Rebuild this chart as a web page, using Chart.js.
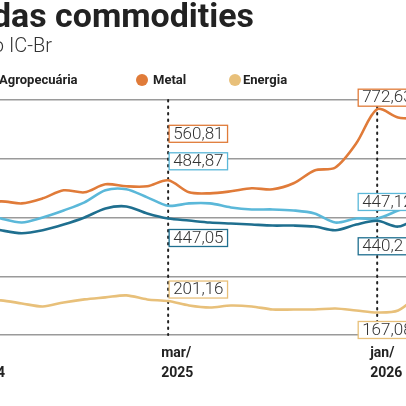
<!DOCTYPE html>
<html><head><meta charset="utf-8">
<script src="https://cdn.jsdelivr.net/npm/chart.js@4"></script>
<style>html,body{margin:0;padding:0;background:#fff;overflow:hidden}#w{position:absolute;left:-40px;top:0;width:486px;height:406px}</style>
</head><body><div id="w"><canvas id="c"></canvas></div>
<script>
const months = ["jun/2024","jul/2024","ago/2024","set/2024","out/2024","nov/2024","dez/2024","jan/2025","fev/2025","mar/2025","abr/2025","mai/2025","jun/2025","jul/2025","ago/2025","set/2025","out/2025","nov/2025","dez/2025","jan/2026","fev/2026","mar/2026"];
const tickLabels = {"jun/2024":["jun/","2024"],"mar/2025":["mar/","2025"],"jan/2026":["jan/","2026"]};
const metal = [486,498,492,507,531,525,549,543,543,560.81,525,522,528,537,534,552,590,599,671,772.63,748,745];
const geral = [465,447,435,450,471,495,531,534,510,484.87,492,492,480,474,474,471,462,435,447,447.12,471,495];
const agro = [426,412,403,412,429,450,477,483,462,447.05,441,435,432,429,426,426,423,412,429,440.2,423,450];
const energia = [203,203,194,185,197,206,212,218,206,201.16,188,182,188,185,176,176,176,179,173,167.08,173,220];
const gridVals = [100,275,450,625,800];
const C = {metal:"#e07b39", geral:"#5bb8d9", agro:"#1f6f8f", energia:"#e8c07a"};
const marks = ["mar/2025","jan/2026"];
const boxes = [
 {m:"mar/2025", data:metal, c:C.metal, dx:1, dy:-55, txt:"560,81"},
 {m:"mar/2025", data:geral, c:C.geral, dx:1, dy:-53, txt:"484,87"},
 {m:"mar/2025", data:agro, c:C.agro, dx:1, dy:11, txt:"447,05"},
 {m:"mar/2025", data:energia, c:C.energia, dx:1, dy:-20, txt:"201,16"},
 {m:"jan/2026", data:metal, c:C.metal, dx:-19, dy:-20, txt:"772,63"},
 {m:"jan/2026", data:geral, c:C.geral, dx:-19, dy:-25, txt:"447,12"},
 {m:"jan/2026", data:agro, c:C.agro, dx:-19, dy:17, txt:"440,2"},
 {m:"jan/2026", data:energia, c:C.energia, dx:-19, dy:9, txt:"167,08"}
];
const deco = {
 id:"deco",
 beforeDatasetsDraw(ch){
  const ctx=ch.ctx,x=ch.scales.x,y=ch.scales.y;
  ctx.save();ctx.strokeStyle="#222";ctx.lineWidth=2;ctx.setLineDash([1.5,5]);ctx.lineCap="round";
  marks.forEach(m=>{const px=x.getPixelForValue(months.indexOf(m));ctx.beginPath();ctx.moveTo(px,y.getPixelForValue(800));ctx.lineTo(px,y.getPixelForValue(100));ctx.stroke();});
  ctx.restore();
 },
 afterDatasetsDraw(ch){
  const ctx=ch.ctx,x=ch.scales.x,y=ch.scales.y;
  ctx.save();
  boxes.forEach(b=>{
   const i=months.indexOf(b.m),px=x.getPixelForValue(i),py=y.getPixelForValue(b.data[i]);
   ctx.font="300 17px Roboto";const w=ctx.measureText(b.txt).width+8;
   const bx=px+b.dx,by=py+b.dy;
   ctx.fillStyle="#fff";ctx.fillRect(bx,by,w,17);
   ctx.strokeStyle=b.c;ctx.lineWidth=1.3;ctx.strokeRect(bx,by,w,17);
   ctx.fillStyle="#333";ctx.textBaseline="middle";ctx.fillText(b.txt,bx+4,by+9);
  });
  ctx.fillStyle="#222";ctx.font="bold 14px Roboto";ctx.textBaseline="alphabetic";
  Object.keys(tickLabels).forEach(k=>{const px=x.getPixelForValue(months.indexOf(k))-7;const t=tickLabels[k];ctx.fillText(t[0],px,357);ctx.fillText(t[1],px,377);});
  ctx.textAlign="right";ctx.font="bold 33px Roboto";
  const t="Preço das commodities";const tw=ctx.measureText("das commodities").width;
  ctx.translate(294,27);ctx.scale(262/tw,1);ctx.fillText(t,0,0);ctx.setTransform(ch.currentDevicePixelRatio||1,0,0,ch.currentDevicePixelRatio||1,0,0);
  ctx.font="300 20px Roboto";ctx.fillStyle="#333";ctx.fillText("Índices do IC-Br",92,52);
  ctx.textAlign="left";ctx.font="bold 13px Roboto";ctx.fillStyle="#222";ctx.textBaseline="middle";
  const leg=[["Agropecuária",C.agro,29,39],["Metal",C.metal,182,193],["Energia",C.energia,275,283]];
  leg.forEach(l=>{ctx.fillStyle=l[1];ctx.beginPath();ctx.arc(l[2],80,6,0,Math.PI*2);ctx.fill();ctx.fillStyle="#222";ctx.fillText(l[0],l[3],81);});
  ctx.restore();
 }
};
const ds=(d,c)=>({data:d,borderColor:c,borderWidth:2.6,pointRadius:0,tension:0.3,fill:false});
new Chart(document.getElementById("c"),{
 type:"line",
 data:{labels:months,datasets:[ds(energia,C.energia),ds(agro,C.agro),ds(geral,C.geral),ds(metal,C.metal)]},
 options:{responsive:true,maintainAspectRatio:false,animation:false,
  layout:{padding:{left:20,right:27,top:100,bottom:71}},
  plugins:{legend:{display:false},tooltip:{enabled:false}},
  scales:{
   x:{display:false},
   y:{min:100,max:800,afterBuildTicks:s=>{s.ticks=gridVals.map(v=>({value:v}));},
      ticks:{display:false},border:{display:false},grid:{color:"#9a9a9a",lineWidth:1.5,drawTicks:false}}
  }},
 plugins:[deco]
});
</script></body></html>
